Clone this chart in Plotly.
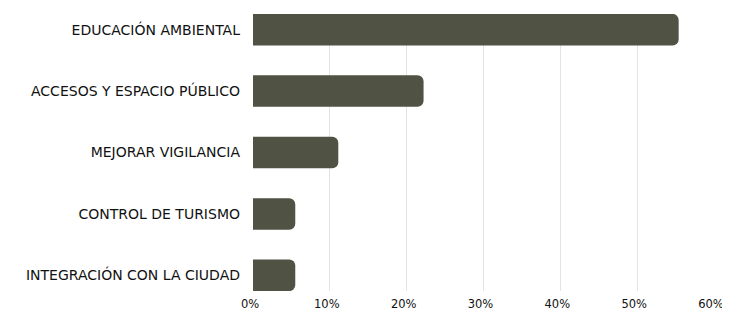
import plotly.graph_objects as go

categories = ["EDUCACIÓN AMBIENTAL", "ACCESOS Y ESPACIO PÚBLICO", "MEJORAR VIGILANCIA",
              "CONTROL DE TURISMO", "INTEGRACIÓN CON LA CIUDAD"]
values = [55.4, 22.2, 11.1, 5.5, 5.5]
x_ticks = [0, 10, 20, 30, 40, 50, 60]
x_tick_labels = ["0%", "10%", "20%", "30%", "40%", "50%", "60%"]

fig = go.Figure(go.Bar(
    x=values, y=categories, orientation="h",
    marker=dict(color="#505244", line=dict(width=0)),
    width=0.512,
))
fig.update_layout(
    width=722, height=303,
    margin=dict(l=245, r=16, t=6, b=20),
    paper_bgcolor="white", plot_bgcolor="white",
    barcornerradius=6,
    showlegend=False,
    font=dict(family="DejaVu Sans", color="#111111", size=12),
)
fig.update_xaxes(range=[0, 60], tickvals=x_ticks, ticktext=x_tick_labels, automargin=False,
                 showgrid=True, gridcolor="#e3e3e3", gridwidth=1, zeroline=False,
                 showline=False, ticks="", ticklabelstandoff=4, ticklabeloverflow="allow",
                 ticklabelshift=-3, tickfont=dict(size=11.5))
fig.update_yaxes(range=[4.255, -0.255], showgrid=False, zeroline=False, showline=False,
                 automargin=False, ticks="", ticklabelstandoff=12,
                 tickfont=dict(size=14, weight=500))
fig.write_html("out.html")
